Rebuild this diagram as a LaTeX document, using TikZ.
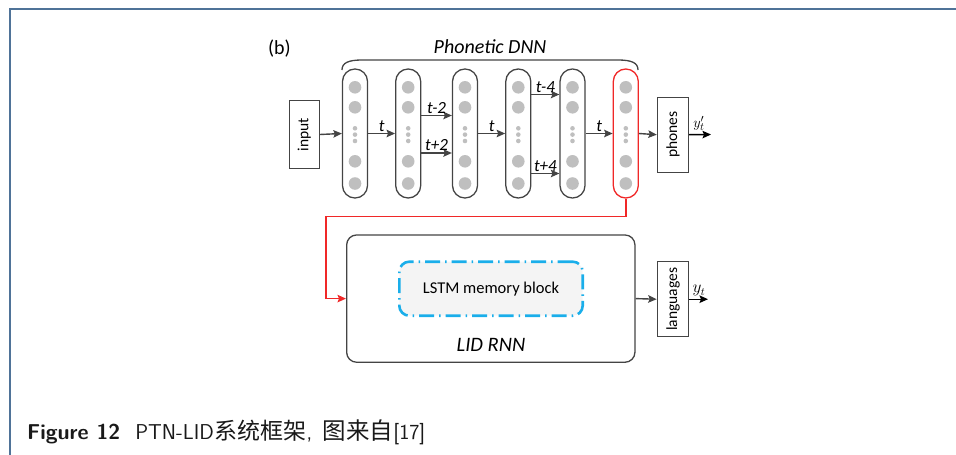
\documentclass[tikz,border=0pt]{standalone}
\usepackage{fontspec}
\setmainfont{Carlito}
\newfontfamily\cjk{Noto Sans CJK SC}
\usetikzlibrary{arrows.meta}
\definecolor{ln}{HTML}{444444}
\definecolor{dotc}{HTML}{BFBFBF}
\definecolor{redl}{HTML}{F02828}
\definecolor{cyanl}{HTML}{1AAEEA}
\definecolor{framec}{HTML}{4F7398}
\definecolor{lstmfill}{HTML}{F4F4F4}
\tikzset{
  col/.style={draw=ln, line width=1.3pt, rounded corners=12.4pt, minimum width=25pt, minimum height=129pt, inner sep=0pt},
  redcol/.style={col, draw=redl},
  neuron/.style={circle, fill=dotc, minimum size=12.6pt, inner sep=0pt},
  smalldot/.style={circle, fill=dotc, minimum size=4.6pt, inner sep=0pt},
  lbox/.style={draw=ln, line width=1pt, inner sep=0pt, font=\fontsize{15.5}{17}\selectfont},
  tip/.style={-{Stealth[length=8.5pt,width=7.5pt,inset=1.5pt]}},
  arr/.style={draw=ln, line width=1.4pt, tip},
  tlab/.style={font=\fontsize{17}{19}\selectfont\itshape, inner sep=1.5pt},
}
\begin{document}
\begin{tikzpicture}[x=1pt,y=-1pt]
\useasboundingbox (0,0) rectangle (956,455);
% frame
\draw[framec, line width=2pt] (10,455) -- (10,9) -- (956,9);
% labels on top
\node[font=\fontsize{20}{22}\selectfont] (blab) at (279.5,48.5) {(b)};
\node[font=\fontsize{20}{22}\selectfont\itshape] (dnnlab) at (490,47) {Phonetic DNN};
\draw[ln, line width=1.3pt] (342,70) .. controls (342,63) and (348,60) .. (362,60) -- (618,60) .. controls (632,60) and (638,63) .. (638,70);
% input box
\node[lbox, minimum width=30pt, minimum height=67.6pt] (inp) at (304.3,134.5) {\rotatebox{90}{input}};
% columns
\foreach \n/\x in {1/355,2/408.2,3/465,4/518.3,5/572.5}{
  \node[col] (c\n) at (\x,133.5) {};
}
\node[redcol] (c6) at (625.8,133.5) {};
\foreach \n/\x in {1/355,2/408.2,3/465,4/518.3,5/572.5,6/625.8}{
  \node[neuron] (n\n a) at (\x,87.3) {};
  \node[neuron] (n\n b) at (\x,107.3) {};
  \node[smalldot] (d\n a) at (\x,128.3) {};
  \node[smalldot] (d\n b) at (\x,134.6) {};
  \node[smalldot] (d\n c) at (\x,141) {};
  \node[neuron] (n\n c) at (\x,161.3) {};
  \node[neuron] (n\n d) at (\x,183.5) {};
}
% output boxes
\node[lbox, minimum width=31.4pt, minimum height=74.7pt] (ph) at (673,134.7) {\rotatebox{90}{phones}};
\node[lbox, minimum width=31.6pt, minimum height=75pt] (lang) at (673,299.2) {\rotatebox{90}{languages}};
% connectors in DNN
\draw[arr] (inp.east) -- (c1.west);
\draw[arr] (c1.east) -- node[tlab, above] {t} (c2.west);
\draw[arr] ([yshift=18pt]c2.east) -- node[tlab, above] {t-2} ([yshift=18pt]c3.west);
\draw[arr] ([yshift=-19.5pt]c2.east) -- node[tlab, above] {t+2} ([yshift=-19.5pt]c3.west);
\draw[arr] (c3.east) -- node[tlab, above] {t} (c4.west);
\draw[arr] ([yshift=39pt]c4.east) -- node[tlab, above] {t-4} ([yshift=39pt]c5.west);
\draw[arr] ([yshift=-40pt]c4.east) -- node[tlab, above] {t+4} ([yshift=-40pt]c5.west);
\draw[arr] (c5.east) -- node[tlab, above] {t} (c6.west);
\draw[arr] (c6.east) -- (ph.west);
\coordinate (phout) at (711,134.5);
\draw[draw=black, line width=1.4pt, tip] (ph.east) -- (phout);
\node[font=\fontsize{15}{17}\selectfont, inner sep=0pt, anchor=south] (yp) at (699,131) {$y'_t$};
% LID RNN
\node[draw=ln, line width=1.3pt, rounded corners=10pt, minimum width=288.3pt, minimum height=127.3pt] (lid) at (490.8,298.6) {};
\node[draw=cyanl, fill=lstmfill, line width=2.6pt, rounded corners=10pt, dash pattern=on 15pt off 5pt on 1.5pt off 5pt,
      minimum width=183.4pt, minimum height=54pt, font=\fontsize{16.5}{18}\selectfont] (lstm) at (491,288.7) {LSTM memory block};
\node[font=\fontsize{20.5}{22}\selectfont\itshape] (lidlab) at (491,345) {LID RNN};
\coordinate (rk) at (326,216.7);
\draw[redl, line width=1.4pt, tip] (c6.south) |- (rk) |- (lid.west);
\draw[arr] (lid.east) -- (lang.west);
\coordinate (langout) at (708,299.2);
\draw[draw=black, line width=1.4pt, tip] (lang.east) -- (langout);
\node[font=\fontsize{16}{18}\selectfont, inner sep=0pt, anchor=south] (yl) at (699,296) {$y_t$};
% caption
\node[anchor=base west, inner sep=0pt, font=\fontsize{21.5}{23}\selectfont\sffamily, text=black!90] (cap) at (27,439)
  {\textbf{Figure 12}\hspace{0.7em}PTN-LID{\cjk\fontsize{23}{24}\selectfont 系统框架}\kern0.5pt,\hspace{0.5em}{\cjk\fontsize{23.5}{24}\selectfont 图来自}[17]};
\end{tikzpicture}
\end{document}
